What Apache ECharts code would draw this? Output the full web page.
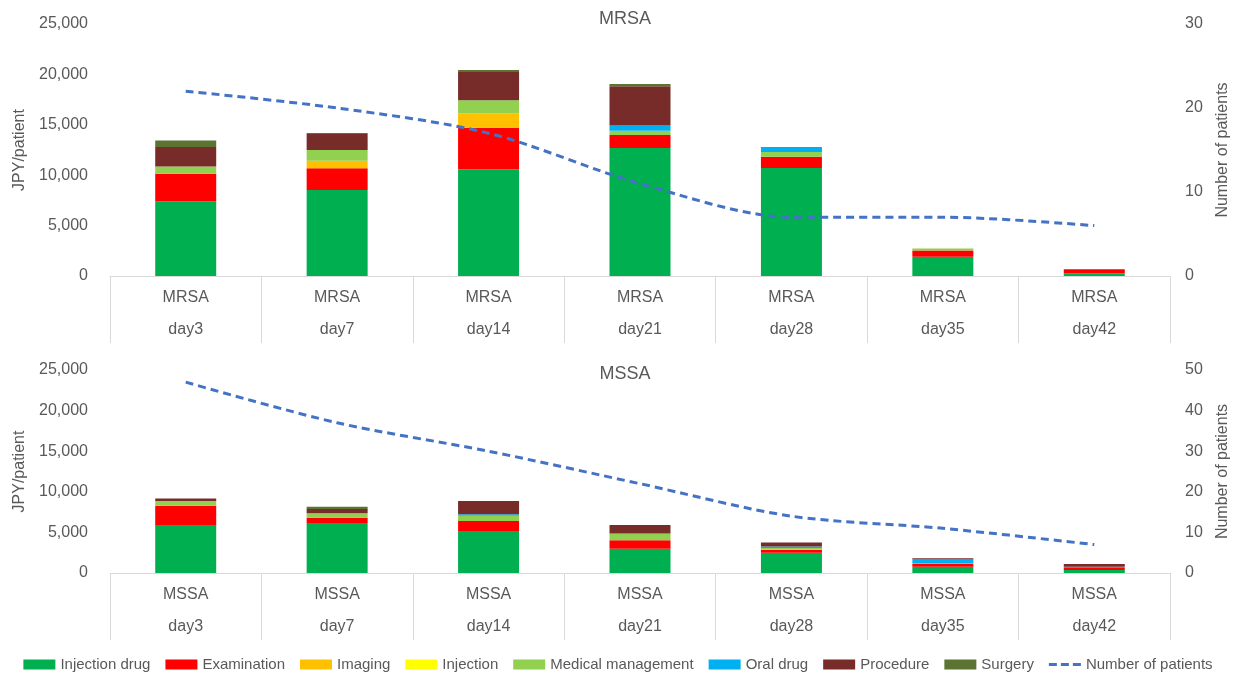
<!DOCTYPE html>
<html>
<head>
<meta charset="utf-8">
<script src="https://cdn.jsdelivr.net/npm/echarts@6/dist/echarts.min.js"></script>
<style>
  html, body { margin: 0; padding: 0; background: #fff; }
  #chart { width: 1236px; height: 678px; }
</style>
</head>
<body>
<div id="chart"></div>
<script>
// Follow-up time points
const days = ['day3', 'day7', 'day14', 'day21', 'day28', 'day35', 'day42'];
const yTicksCost = [0, 5000, 10000, 15000, 20000, 25000];

// MRSA: cost per patient (JPY) by category
const mrsaInjectionDrug = [7400, 8530, 10580, 12700, 10710, 1920, 270];
const mrsaExamination = [2750, 2150, 4130, 1290, 1120, 600, 400];
const mrsaImaging = [0, 750, 1430, 0, 0, 0, 0];
const mrsaInjection = [0, 0, 0, 0, 0, 0, 0];
const mrsaMedicalManagement = [720, 1060, 1290, 430, 460, 200, 0];
const mrsaOralDrug = [0, 0, 0, 500, 460, 0, 0];
const mrsaProcedure = [1920, 1590, 2810, 3900, 60, 0, 0];
const mrsaSurgery = [650, 100, 200, 240, 0, 0, 0];
const mrsaPatients = [22, 20, 17, 11, 7, 7, 6];

// MSSA: cost per patient (JPY) by category
const mssaInjectionDrug = [5830, 6070, 5090, 3000, 2500, 780, 370];
const mssaExamination = [2460, 740, 1310, 1030, 370, 330, 250];
const mssaImaging = [0, 0, 0, 0, 80, 0, 0];
const mssaInjection = [0, 0, 0, 0, 0, 0, 0];
const mssaMedicalManagement = [570, 540, 660, 780, 120, 60, 0];
const mssaOralDrug = [0, 0, 170, 80, 200, 490, 160];
const mssaProcedure = [330, 530, 1640, 1030, 490, 160, 330];
const mssaSurgery = [0, 280, 0, 0, 0, 0, 0];
const mssaPatients = [47, 37, 30, 22, 14, 11, 7];

const costNames = ['Injection drug', 'Examination', 'Imaging', 'Injection',
  'Medical management', 'Oral drug', 'Procedure', 'Surgery'];
const costColors = ['#00B050', '#FF0000', '#FFC000', '#FFFF00',
  '#92D050', '#00B0F0', '#772C2A', '#5B7431'];
const lineName = 'Number of patients';

const panels = [
  { title: 'MRSA', patients: mrsaPatients, patientMax: 30, patientInterval: 10,
    costs: [mrsaInjectionDrug, mrsaExamination, mrsaImaging, mrsaInjection,
            mrsaMedicalManagement, mrsaOralDrug, mrsaProcedure, mrsaSurgery] },
  { title: 'MSSA', patients: mssaPatients, patientMax: 50, patientInterval: 10,
    costs: [mssaInjectionDrug, mssaExamination, mssaImaging, mssaInjection,
            mssaMedicalManagement, mssaOralDrug, mssaProcedure, mssaSurgery] }
];

const FONT = "'Liberation Sans', Arial, sans-serif";
const TXT = '#595959';
const gridBoxes = [{ top: 24, height: 252, titleTop: 5 }, { top: 370, height: 203, titleTop: 360 }];

// Dashed-line legend marker (three dashes inside a 32x10 box)
const dashIcon = 'path://M0,0h0.01v0.01h-0.01zM32,10h0.01v0.01h-0.01z' +
  'M0,3.5h8v3h-8zM12,3.5h8v3h-8zM24,3.5h8v3h-8z';

const grid = [], xAxis = [], yAxis = [], series = [], title = [];
panels.forEach((p, i) => {
  grid.push({
    left: 110, right: 66, top: gridBoxes[i].top, height: gridBoxes[i].height,
    containLabel: false, outerBoundsMode: 'none'
  });
  title.push({
    text: p.title, left: 620, textAlign: 'center', top: gridBoxes[i].titleTop,
    textStyle: { fontFamily: FONT, fontSize: 18, fontWeight: 'normal', color: TXT }
  });
  xAxis.push({
    type: 'category', gridIndex: i, data: days, boundaryGap: true,
    axisLine: { show: true, lineStyle: { color: '#D9D9D9', width: 1 } },
    axisTick: { show: true, length: 67, lineStyle: { color: '#D9D9D9', width: 1 } },
    axisLabel: {
      margin: 6, interval: 0, fontFamily: FONT, fontSize: 16, color: TXT,
      lineHeight: 32,
      formatter: (v) => p.title + '\n' + v
    }
  });
  yAxis.push({
    type: 'value', gridIndex: i, min: 0, max: 25000, interval: 5000,
    name: 'JPY/patient', nameLocation: 'middle', nameGap: 82, nameRotate: 90,
    nameTextStyle: { fontFamily: FONT, fontSize: 16, color: TXT },
    axisLine: { show: false }, axisTick: { show: false }, splitLine: { show: false },
    axisLabel: {
      margin: 22, fontFamily: FONT, fontSize: 16, color: TXT,
      formatter: (v) => yTicksCost.includes(v) ? v.toLocaleString('en-US') : ''
    }
  });
  yAxis.push({
    type: 'value', gridIndex: i, position: 'right', min: 0, max: p.patientMax,
    interval: p.patientInterval,
    name: 'Number of patients', nameLocation: 'middle', nameGap: 45, nameRotate: 90,
    nameTextStyle: { fontFamily: FONT, fontSize: 16, color: TXT },
    axisLine: { show: false }, axisTick: { show: false }, splitLine: { show: false },
    axisLabel: { margin: 15, fontFamily: FONT, fontSize: 16, color: TXT }
  });
  costNames.forEach((name, k) => {
    series.push({
      name, type: 'bar', stack: 'cost' + i, xAxisIndex: i, yAxisIndex: 2 * i,
      barWidth: 61, data: p.costs[k],
      itemStyle: { color: costColors[k] }
    });
  });
  series.push({
    name: lineName, type: 'line', xAxisIndex: i, yAxisIndex: 2 * i + 1,
    data: p.patients, smooth: 0.3, symbol: 'none', z: 5,
    lineStyle: { color: '#4472C4', width: 3, type: [8, 5] },
    itemStyle: { color: '#4472C4' }
  });
});

const chart = echarts.init(document.getElementById('chart'), null, { renderer: 'canvas' });
chart.setOption({
  animation: false,
  backgroundColor: '#fff',
  title, grid, xAxis, yAxis, series,
  legend: {
    bottom: 1, left: 'center', itemWidth: 32, itemHeight: 10, itemGap: 15,
    data: costNames.map((n) => ({ name: n, icon: 'rect' }))
      .concat([{ name: lineName, icon: dashIcon, itemStyle: { color: '#4472C4' } }]),
    textStyle: { fontFamily: FONT, fontSize: 15, color: TXT }
  }
});
</script>
</body>
</html>
